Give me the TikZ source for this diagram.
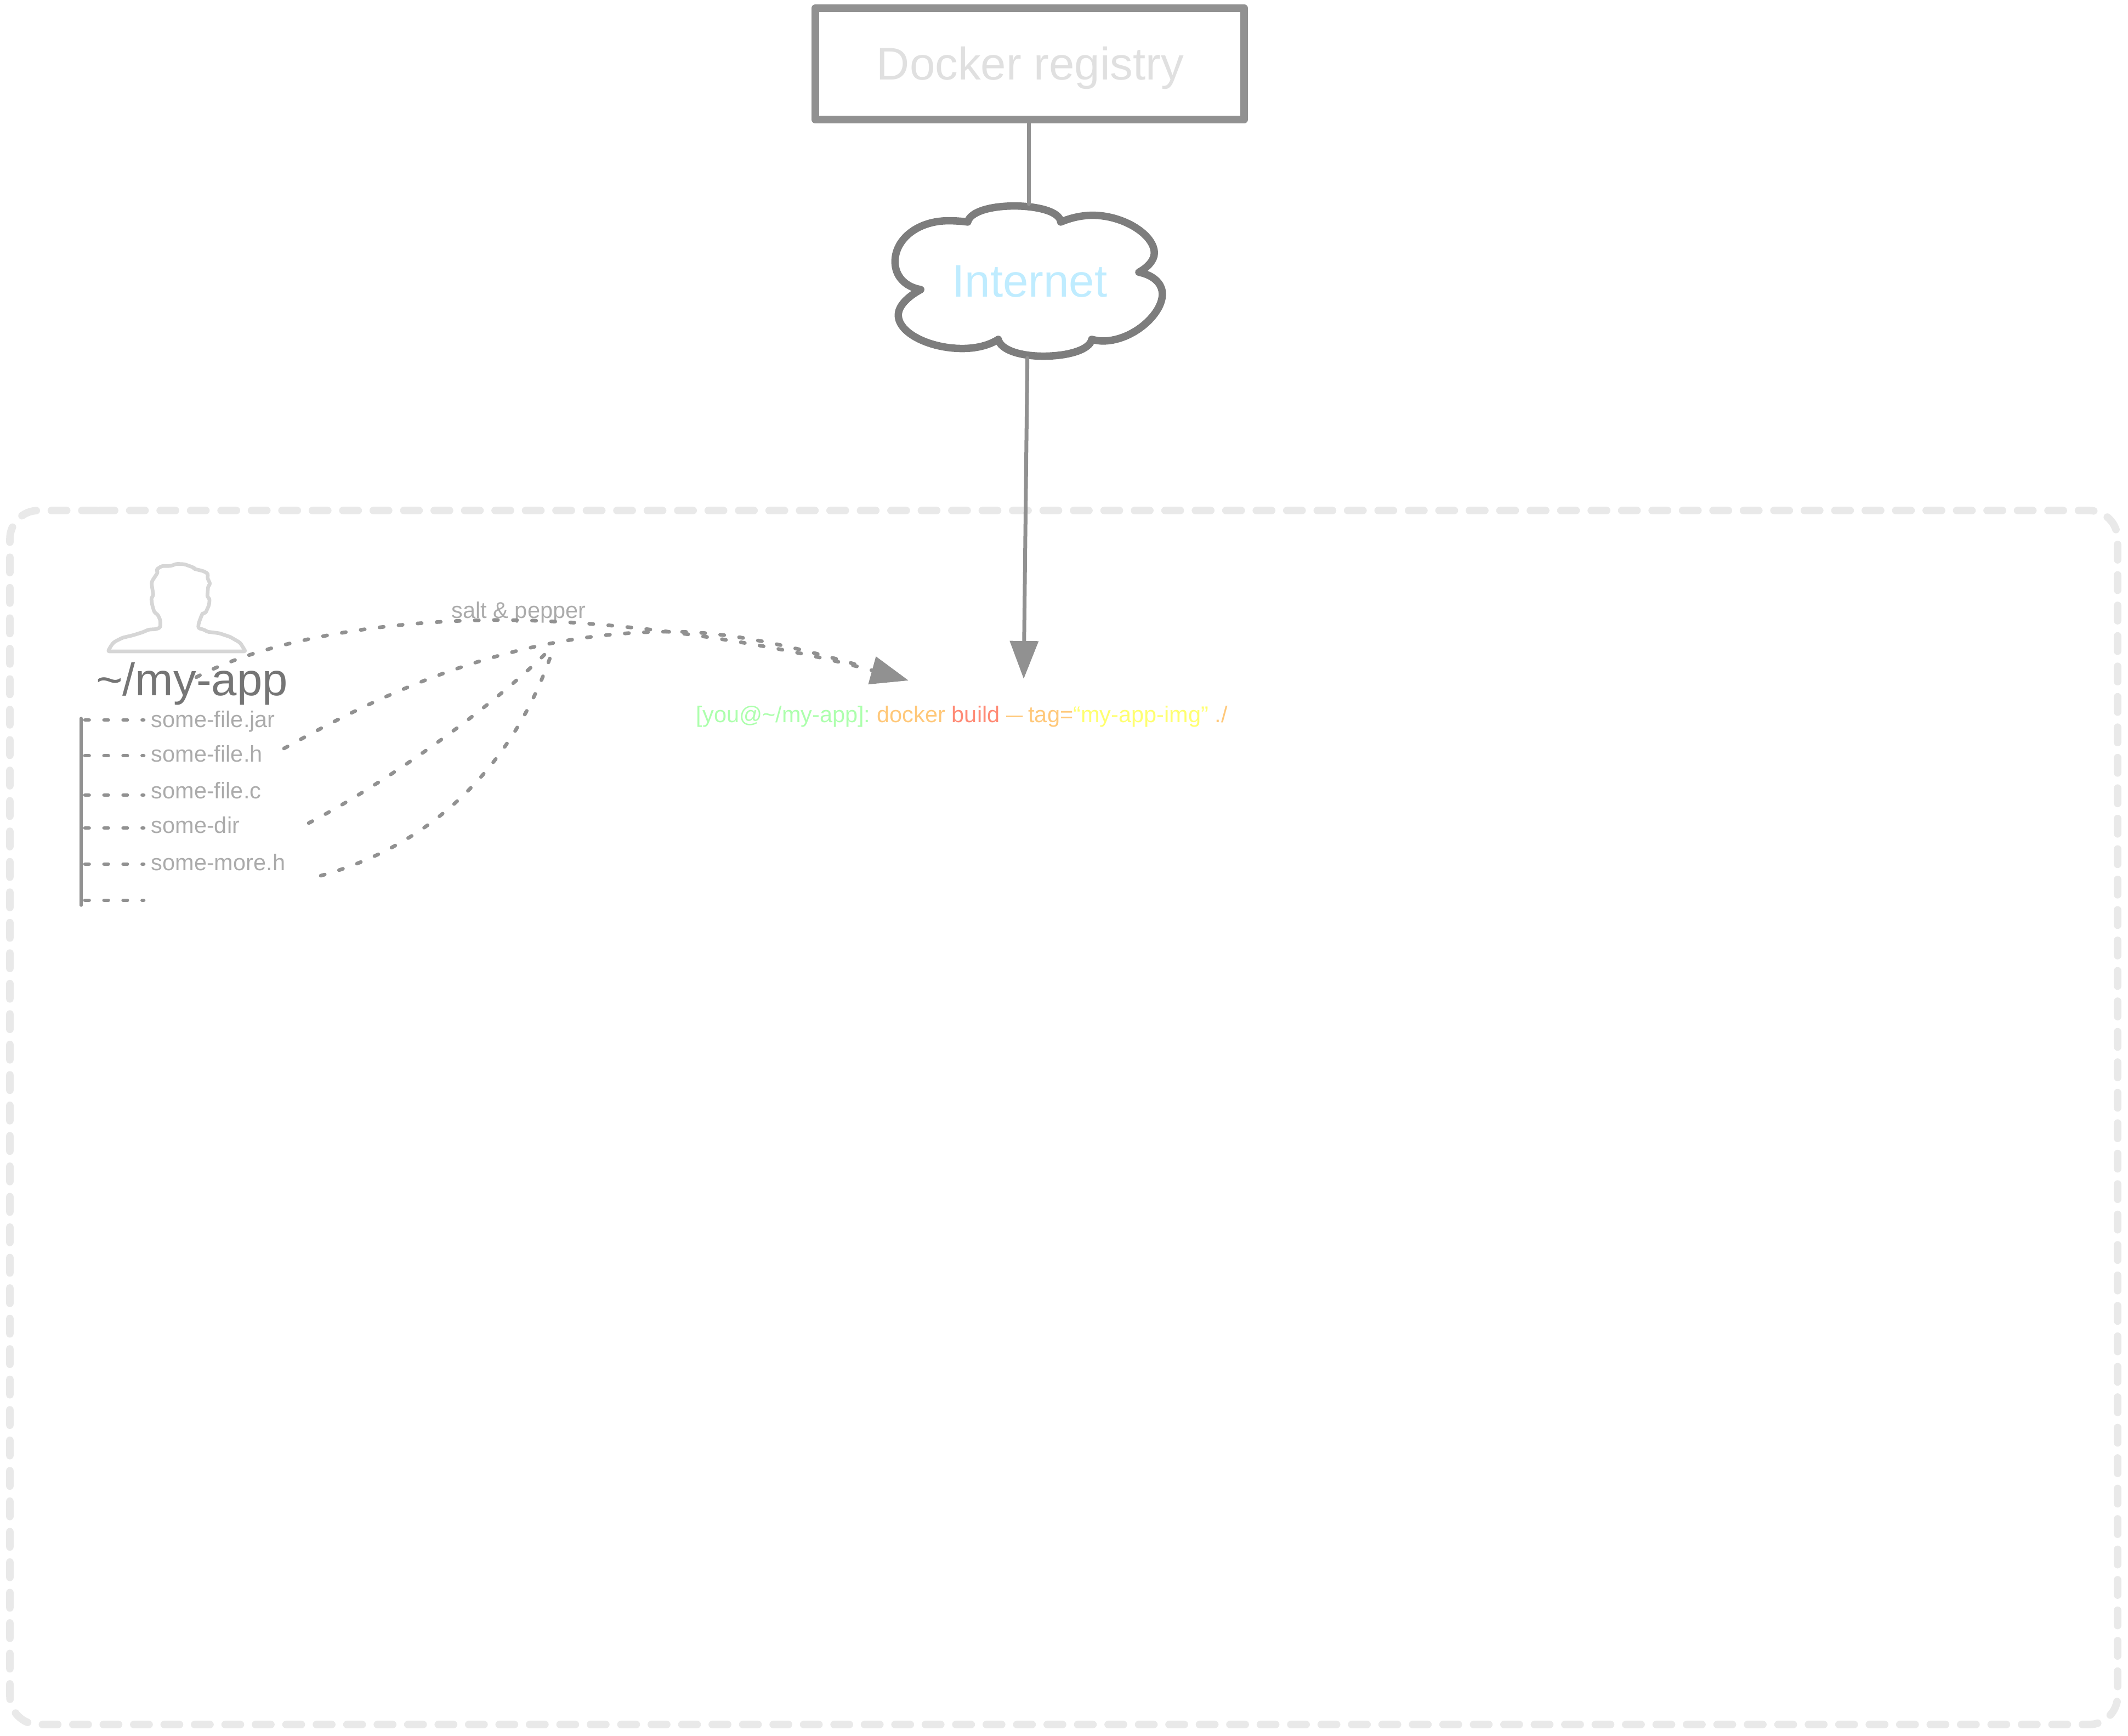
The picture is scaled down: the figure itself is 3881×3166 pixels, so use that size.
\documentclass[tikz,border=0pt]{standalone}
\usepackage{fontspec}
\setmainfont{Liberation Sans}
\usetikzlibrary{arrows.meta}
\definecolor{boxgrey}{HTML}{919191}
\definecolor{cloudgrey}{HTML}{7D7D7D}
\definecolor{palegrey}{HTML}{E0E0E0}
\definecolor{framegrey}{HTML}{E9E9E9}
\definecolor{persongrey}{HTML}{D6D6D6}
\definecolor{labelgrey}{HTML}{ABABAB}
\definecolor{titlegrey}{HTML}{757575}
\definecolor{inetblue}{HTML}{BFECFF}
\definecolor{cmdgreen}{HTML}{ADFFAD}
\definecolor{cmdorange}{HTML}{FFC87A}
\definecolor{cmdred}{HTML}{FF8A75}
\definecolor{cmdyellow}{HTML}{FFFF70}
\tikzset{
  x=0.01cm,y=-0.01cm,
  bigtext/.style={inner sep=0pt,anchor=base,font=\fontsize{23.7pt}{26pt}\selectfont},
  smalltext/.style={inner sep=0pt,anchor=base west,text=labelgrey,font=\fontsize{11.8pt}{14pt}\selectfont},
  conn/.style={draw=boxgrey,line width=0.07cm,line cap=round},
  dots/.style={draw=boxgrey,line width=0.067cm,line cap=round,dash pattern=on 0.075cm off 0.273cm},
  bigtip/.style={-{Triangle[length=0.69cm,width=0.51cm]}},
}
\begin{document}
\begin{tikzpicture}
\useasboundingbox (0,0) rectangle (3881,3166);
% outer dashed frame
\draw[framegrey,line width=0.137cm,line cap=round,rounded corners=0.52cm,dash pattern=on 0.28cm off 0.275cm]
  (129,931) -- (3862,931) -- (3862,3145) -- (18,3145) -- (18,931) -- cycle;
% registry
\node[draw=boxgrey,line width=0.14cm,line join=round,minimum width=7.82cm,minimum height=2.03cm,inner sep=0pt] (registry) at (1878,116.5) {};
\node[bigtext,text=palegrey] (registrylabel) at (1879,145.5) {Docker registry};
% cloud
\node[bigtext,text=inetblue] (internet) at (1878,541) {Internet};
\coordinate (cloudtop) at (1876,372);
\coordinate (cloudbottom) at (1873.7,653);
\coordinate (buildtip) at (1867,1238);
\begin{scope}[shift={(1620,360)},x=0.003333cm,y=-0.003333cm]
\draw[cloudgrey,line width=0.135cm,line join=round,line cap=round]
  (435,135) .. controls (450,75) and (570,47) .. (690,47)
  .. controls (810,47) and (940,75) .. (945,135)
  .. controls (1000,112) and (1060,98) .. (1120,98)
  .. controls (1290,98) and (1458,205) .. (1458,305)
  .. controls (1458,345) and (1420,385) .. (1373,410)
  .. controls (1450,425) and (1502,470) .. (1502,530)
  .. controls (1502,640) and (1340,787) .. (1175,787)
  .. controls (1155,787) and (1135,783) .. (1115,778)
  .. controls (1105,835) and (985,870) .. (850,870)
  .. controls (720,870) and (615,835) .. (603,778)
  .. controls (550,812) and (480,828) .. (405,828)
  .. controls (230,828) and (55,745) .. (55,645)
  .. controls (55,595) and (105,545) .. (178,505)
  .. controls (90,490) and (37,430) .. (37,352)
  .. controls (37,230) and (160,128) .. (330,128)
  .. controls (365,128) and (400,130) .. (435,135);
\end{scope}
\draw[conn] (registry.south) ++(-2,0) -- (cloudtop);
\draw[conn,bigtip] (cloudbottom) -- (buildtip);
% person
\begin{scope}[shift={(180,1015)},x=0.003333cm,y=-0.003333cm]
\draw[persongrey,line width=0.067cm,line join=round,line cap=round,rounded corners=0.03cm]
  (50,520) -- (805,520) -- (775,472) -- (720,440) -- (660,420) -- (595,412) -- (580,402)
  -- (545,392) -- (548,365) -- (565,320) -- (570,310) -- (585,310) -- (605,265) -- (608,230)
  -- (595,222) -- (600,160) -- (612,152) -- (595,115) -- (600,95) -- (575,80) -- (525,68)
  -- (520,60) -- (470,42) -- (425,40) -- (400,50) -- (385,52) -- (345,52) -- (315,72)
  -- (325,85) -- (292,135) -- (290,150) -- (300,215) -- (288,225) -- (293,265) -- (305,305)
  -- (325,320) -- (338,350) -- (338,388) -- (315,398) -- (275,400) -- (240,415) -- (185,432)
  -- (130,445) -- (85,468) -- (70,485) -- cycle;
\end{scope}
\node[bigtext,text=titlegrey] (myapp) at (350,1268) {\textasciitilde/my-app};
% tree
\coordinate (treetop) at (148,1310);
\coordinate (treebottom) at (148,1651);
\draw[conn,line width=0.055cm] (treetop) -- (treebottom);
\foreach \yy/\nm in {1313/a,1378/b,1450/c,1510/d,1576/e,1642/f}{
  \coordinate (tree\nm) at (148,\yy);
  \coordinate (leaf\nm) at (262,\yy);
  \draw[dots] (tree\nm) ++(7,0) -- (leaf\nm);
}
\node[smalltext] (filejar) at (275,1326.5) {some-file.jar};
\node[smalltext] (fileh) at (275,1389) {some-file.h};
\node[smalltext] (filec) at (275,1456) {some-file.c};
\node[smalltext] (filedir) at (275,1519) {some-dir};
\node[smalltext] (filemore) at (275,1587) {some-more.h};
\node[smalltext] (salt) at (823,1127) {salt \& pepper};
% command
\node[smalltext] (command) at (1269,1317) {\textcolor{cmdgreen}{[you@\textasciitilde/my-app]:} \kern-0.03cm\textcolor{cmdorange}{docker} \textcolor{cmdred}{build} \textcolor{cmdorange}{\scalebox{0.73}[1]{—}\kern0.1cm tag=}\textcolor{cmdyellow}{“my-app-img”} \textcolor{cmdorange}{./}};
% dotted curves
\coordinate (saltstart) at (358,1235);
\coordinate (hstart) at (518,1365);
\coordinate (dirstart) at (563,1501);
\coordinate (morestart) at (585,1597);
\coordinate (junction) at (1011,1176);
\coordinate (saltpeak) at (880,1131);
\coordinate (hpeak) at (1225,1152);
\coordinate (hend) at (1576.6,1216.3);
\coordinate (copytip) at (1657,1241);
\draw[dots,bigtip] (saltstart) .. controls (480,1170) and (680,1135) .. (saltpeak)
  .. controls (1100,1127) and (1400,1170) .. (copytip);
\draw[dots] (hstart) .. controls (680,1275) and (920,1152) .. (hpeak)
  .. controls (1322.75,1152) and (1431.3,1173.7) .. (hend);
\draw[dots] (dirstart) .. controls (700,1430) and (900,1290) .. (junction);
\draw[dots] (morestart) .. controls (810,1535) and (950,1370) .. (junction);
\end{tikzpicture}
\end{document}
